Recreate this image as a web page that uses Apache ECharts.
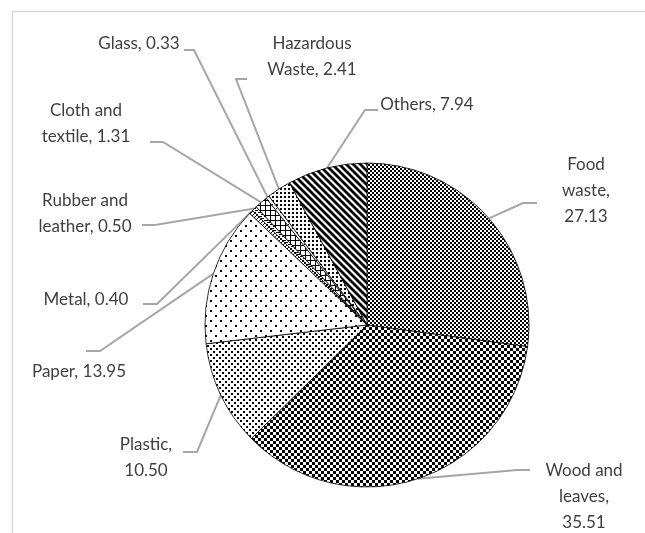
<!DOCTYPE html>
<html lang="en">
<head>
<meta charset="UTF-8">
<title>Waste composition</title>
<script src="https://cdn.jsdelivr.net/npm/echarts@6/dist/echarts.min.js"></script>
<style>
  html, body { margin: 0; padding: 0; background: #fff; }
  #chart { width: 645px; height: 533px; }
</style>
</head>
<body>
<div id="chart"></div>
<script>
// waste composition (%), clockwise from 12 o'clock
var categories = ['Food waste', 'Wood and leaves', 'Plastic', 'Paper', 'Metal',
  'Rubber and leather', 'Cloth and textile', 'Glass', 'Hazardous Waste', 'Others'];
var shares = [27.13, 35.51, 10.50, 13.95, 0.40, 0.50, 1.31, 0.33, 2.41, 7.94];
// how each label is broken over lines
var labelWraps = ['Food\nwaste', 'Wood and\nleaves', 'Plastic', 'Paper', 'Metal',
  'Rubber and\nleather', 'Cloth and\ntextile', 'Glass', 'Hazardous\nWaste', 'Others'];
var valueOwnLine = [true, true, true, false, false, false, false, false, false, false];

// where the labels sit and where their leader lines bend / end
var labelSpots = [
  { x: 586, y: 191, elbow: [523, 203], end: [537, 203] },
  { x: 584, y: 497, elbow: [517, 470], end: [530, 470] },
  { x: 146, y: 458, elbow: [197, 452], end: [183, 452] },
  { x: 79,  y: 372, elbow: [100, 351], end: [86, 351] },
  { x: 86,  y: 300, elbow: [157, 304], end: [143, 304] },
  { x: 85,  y: 214, elbow: [155, 225], end: [142, 225] },
  { x: 86,  y: 124, elbow: [163, 142], end: [150, 142] },
  { x: 139, y: 44,  elbow: [194, 50],  end: [184, 50] },
  { x: 312, y: 57,  elbow: [236, 79],  end: [247, 79] },
  { x: 427, y: 105, elbow: [365, 110], end: [378, 110] }
];

var CX = 367, CY = 325, R = 162;

// small black/white tiles, like the office pattern fills
function tile(w, h, draw) {
  var c = document.createElement('canvas');
  c.width = w; c.height = h;
  var g = c.getContext('2d');
  g.fillStyle = '#fff'; g.fillRect(0, 0, w, h);
  g.fillStyle = '#000'; g.strokeStyle = '#000';
  draw(g, w, h);
  return { image: c, repeat: 'repeat' };
}

var patterns = [
  // food: small checker
  tile(4, 4, function (g) { g.fillRect(0, 0, 2, 2); g.fillRect(2, 2, 2, 2); }),
  // wood: larger checker
  tile(6, 6, function (g) { g.fillRect(0, 0, 3, 3); g.fillRect(3, 3, 3, 3); }),
  // plastic: dense dots
  tile(6, 6, function (g) { g.fillRect(0, 0, 2, 2); g.fillRect(3, 3, 2, 2); }),
  // paper: sparse dots
  tile(10, 10, function (g) { g.fillRect(0, 0, 2, 2); g.fillRect(5, 5, 2, 2); }),
  // metal: fine diagonal
  tile(4, 4, function (g) { g.fillRect(0, 3, 1, 1); g.fillRect(1, 2, 1, 1); g.fillRect(2, 1, 1, 1); g.fillRect(3, 0, 1, 1); }),
  // rubber: short dashes
  tile(6, 4, function (g) { g.fillRect(0, 0, 4, 1); g.fillRect(3, 2, 3, 1); }),
  // cloth: ladder
  tile(5, 5, function (g) { g.fillRect(0, 0, 1, 5); g.fillRect(0, 0, 5, 1); }),
  // glass: light dots
  tile(4, 4, function (g) { g.fillRect(0, 0, 1, 1); }),
  // hazardous: fine dots
  tile(4, 4, function (g) { g.fillRect(0, 0, 2, 2); }),
  // others: wide downward diagonal
  tile(7, 7, function (g, w) {
    g.lineWidth = 2.8;
    g.beginPath();
    [-w, 0, w].forEach(function (k) { g.moveTo(k - 1, -1); g.lineTo(k + w + 1, w + 1); });
    g.stroke();
  })
];

var total = shares.reduce(function (a, b) { return a + b; }, 0);

function edgePoint(i) {
  var before = 0;
  for (var k = 0; k < i; k++) before += shares[k];
  var mid = (before + shares[i] / 2) / total * Math.PI * 2;
  return [CX + R * Math.sin(mid), CY - R * Math.cos(mid)];
}

var chart = echarts.init(document.getElementById('chart'), null, { renderer: 'canvas' });

chart.setOption({
  backgroundColor: '#fff',
  animation: false,
  graphic: [{
    type: 'rect',
    shape: { x: 12.5, y: 11.5, width: 700, height: 600 },
    style: { fill: 'none', stroke: '#d9d9d9', lineWidth: 1.5 },
    silent: true
  }],
  series: [{
    type: 'pie',
    center: [CX, CY],
    radius: R,
    startAngle: 90,
    clockwise: true,
    silent: true,
    avoidLabelOverlap: false,
    itemStyle: { borderColor: '#000', borderWidth: 0.8 },
    label: {
      show: true,
      color: '#3f3f3f',
      fontFamily: 'Lato',
      fontSize: 17,
      lineHeight: 26,
      align: 'center',
      formatter: function (p) {
        var i = p.dataIndex;
        return labelWraps[i] + ',' + (valueOwnLine[i] ? '\n' : ' ') + shares[i].toFixed(2);
      }
    },
    labelLine: {
      show: true,
      length: 10,
      length2: 10,
      lineStyle: { color: '#a6a6a6', width: 2 }
    },
    labelLayout: function (params) {
      var i = params.dataIndex;
      var s = labelSpots[i];
      return {
        x: s.x,
        y: s.y,
        align: 'center',
        verticalAlign: 'middle',
        labelLinePoints: [edgePoint(i), s.elbow, s.end]
      };
    },
    data: categories.map(function (name, i) {
      return { name: name, value: shares[i], itemStyle: { color: patterns[i] } };
    })
  }]
});
</script>
</body>
</html>
